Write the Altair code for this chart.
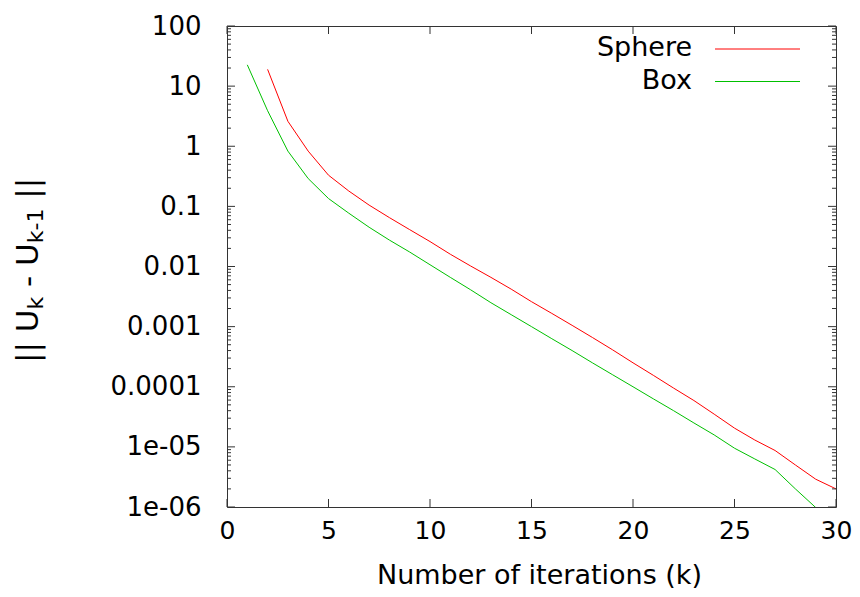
import altair as alt
import pandas as pd

# ---- data ----
series = ["Sphere", "Box"]
colors = ["#ff0000", "#00c000"]

k_sphere = list(range(2, 31))
sphere = [19.0, 2.6, 0.83, 0.33, 0.18, 0.105, 0.065, 0.041, 0.026, 0.016,
          0.0102, 0.0066, 0.0042, 0.0026, 0.00166, 0.00105, 0.00066, 0.00041,
          0.00025, 0.000155, 9.5e-5, 5.9e-5, 3.5e-5, 2.05e-5, 1.3e-5, 8.7e-6,
          5.0e-6, 2.9e-6, 2.0e-6]

k_box = list(range(1, 31))
box = [22.6, 3.9, 0.83, 0.29, 0.135, 0.077, 0.045, 0.0275, 0.0174, 0.0107,
       0.0066, 0.0041, 0.0025, 0.00158, 0.001, 0.00063, 0.0004, 0.00025,
       0.000158, 0.0001, 6.3e-5, 4.0e-5, 2.5e-5, 1.58e-5, 9.5e-6, 6.3e-6,
       4.2e-6, 2.0e-6, 9.8e-7, 5.0e-7]

x_ticks = [0, 5, 10, 15, 20, 25, 30]
y_ticks = [100, 10, 1, 0.1, 0.01, 0.001, 0.0001, 1e-5, 1e-6]
y_labels = ["100", "10", "1", "0.1", "0.01", "0.001", "0.0001", "1e-05", "1e-06"]
y_minor = [m * d for d in [1e-6, 1e-5, 1e-4, 1e-3, 1e-2, 1e-1, 1, 10] for m in range(2, 10)]

# y title "|| U_k - U_{k-1} ||" as pieces: (text, is_subscript); " " = gap only
ytitle_parts = [("||", False), (" ", False), ("U", False), ("k", True), (" ", False),
                ("-", False), (" ", False), ("U", False), ("k-1", True), (" ", False),
                ("||", False)]

W, H = 609, 481
FONT = "DejaVu Sans"

df = pd.concat([
    pd.DataFrame({"k": k_sphere, "v": sphere, "s": series[0]}),
    pd.DataFrame({"k": k_box, "v": box, "s": series[1]}),
])

xs = alt.Scale(domain=[0, 30], nice=False)
ys = alt.Scale(type="log", domain=[1e-6, 100], nice=False)

label_expr = ""
for v, l in zip(y_ticks, y_labels):
    label_expr += f"datum.value > {v / 2} ? '{l}' : "
label_expr += "''"

x_axis = alt.Axis(
    values=x_ticks, format="d", title="Number of iterations (k)",
    labelPadding=11, labelFlush=False, labelFontSize=25, titleX=312, titleY=76,
    titleBaseline="alphabetic", titleAlign="center")
y_axis = alt.Axis(
    values=y_ticks, labelExpr=label_expr, title=None, labelPadding=26)

lines = alt.Chart(df).mark_line(strokeWidth=1, clip=True).encode(
    x=alt.X("k:Q", scale=xs, axis=x_axis),
    y=alt.Y("v:Q", scale=ys, axis=y_axis),
    color=alt.Color("s:N", scale=alt.Scale(domain=series, range=colors), legend=None),
)

# inward ticks (gnuplot style, mirrored)
ymaj = pd.DataFrame({"v": y_ticks})
ymin = pd.DataFrame({"v": y_minor})
xmaj = pd.DataFrame({"k": x_ticks})
tick_color = "#333333"

def yrule(data, x0, x1):
    return alt.Chart(data).mark_rule(color=tick_color, strokeWidth=1).encode(
        y=alt.Y("v:Q", scale=ys, axis=y_axis), x=alt.value(x0), x2=alt.value(x1))

def xrule(data, y0, y1):
    return alt.Chart(data).mark_rule(color=tick_color, strokeWidth=1).encode(
        x=alt.X("k:Q", scale=xs, axis=x_axis), y=alt.value(y0), y2=alt.value(y1))

ticks = [
    yrule(ymaj, 0, 8), yrule(ymaj, W, W - 8),
    yrule(ymin, 0, 4), yrule(ymin, W, W - 4),
    xrule(xmaj, H, H - 8), xrule(xmaj, 0, 8),
]

# legend (top-right, labels left of line samples)
legend_layers = []
for i, (name, col) in enumerate(zip(series, colors)):
    ly = 23 + i * 32.5
    legend_layers.append(
        alt.Chart(pd.DataFrame({"s": [name]})).mark_text(
            align="right", baseline="middle", font=FONT, fontSize=27, color="black"
        ).encode(text="s:N", x=alt.value(465), y=alt.value(ly - 1)))
    legend_layers.append(
        alt.Chart(pd.DataFrame({"s": [name]})).mark_rule(color=col, strokeWidth=1).encode(
            x=alt.value(488), x2=alt.value(573), y=alt.value(ly)))

# rotated y-axis title with real subscripts, built from text pieces
adv = {"|": 0.337, " ": 0.318, "U": 0.732, "k": 0.579, "-": 0.361, "1": 0.636}
main_fs, sub_fs = 31, 22
base_x = -189          # baseline of rotated text (relative to plot left edge)
pos_y = 337            # start of text (bottom), relative to plot top
title_layers = []
for txt, sub in ytitle_parts:
    fs = sub_fs if sub else main_fs
    if txt.strip():
        title_layers.append(
            alt.Chart(pd.DataFrame({"t": [txt]})).mark_text(
                align="left", baseline="alphabetic", angle=270, font=FONT,
                fontSize=fs, color="black"
            ).encode(text="t:N", x=alt.value(base_x + (5 if sub else 0)), y=alt.value(pos_y)))
    pos_y -= sum(adv[c] for c in txt) * fs

chart = alt.layer(lines, *ticks, *legend_layers, *title_layers).properties(
    width=W, height=H,
    padding={"left": 219, "top": 18, "right": 16, "bottom": 82},
    autosize=alt.AutoSizeParams(type="none"),
).configure_view(
    stroke="#333333", strokeWidth=1
).configure_axis(
    labelFont=FONT, labelFontSize=26, labelColor="black",
    titleFont=FONT, titleFontSize=27, titleFontWeight="normal", titleColor="black",
    domain=False, ticks=False, grid=False,
)

chart.save("out.html", embed_options={"renderer": "svg", "actions": False})
